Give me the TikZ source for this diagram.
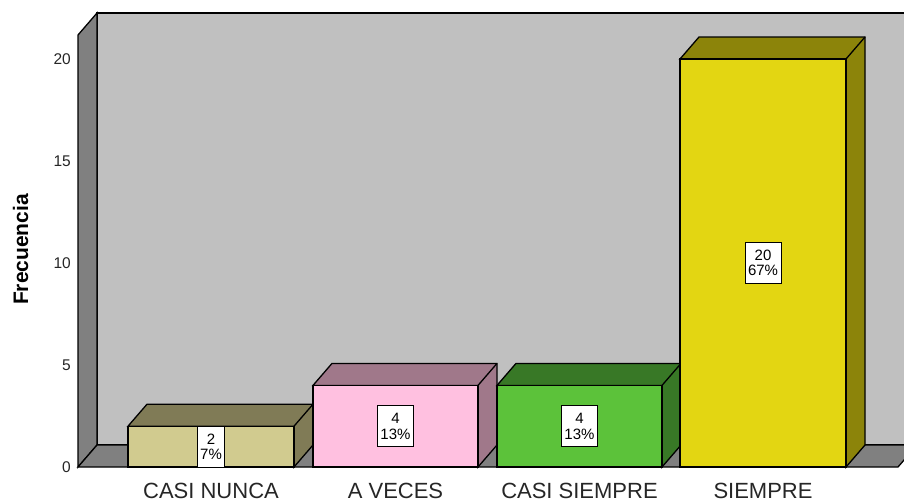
\documentclass[tikz,border=0pt]{standalone}
\usepackage{fontspec}
\setmainfont{Liberation Sans}
\usetikzlibrary{calc}
\definecolor{wallback}{HTML}{C0C0C0}
\definecolor{wallside}{HTML}{808080}
\definecolor{nuncafront}{HTML}{D1CB8F}
\definecolor{nuncaside}{HTML}{807B56}
\definecolor{vecesfront}{HTML}{FFC0E0}
\definecolor{vecesside}{HTML}{A0788A}
\definecolor{casifront}{HTML}{5CC23A}
\definecolor{casiside}{HTML}{387826}
\definecolor{siemprefront}{HTML}{E3D612}
\definecolor{siempreside}{HTML}{8C840A}
\def\barthree[#1][#2](#3,#4)(#5,#6){%
	\draw[line width=1.3pt, fill=#2] (#5,#4) -- ++(19,-22) -- (#5+19,#6-22) -- (#3+19,#6-22) -- (#3,#6) -- (#5,#6) -- cycle;
	\draw[line width=1.3pt, fill=#1] (#3,#4) rectangle (#5,#6);
	\draw[line width=1.3pt] (#5,#6) -- ++(19,-22);}
\tikzset{
	valbox/.style={draw=black, line width=1pt, fill=white, align=center, inner xsep=3pt, inner ysep=0pt, minimum height=41pt, font=\fontsize{15}{15.5}\selectfont},
	catlabel/.style={anchor=base, text=black!85, font=\fontsize{22}{22}\selectfont},
	ticklabel/.style={anchor=east, inner sep=0pt, text=black!85, font=\fontsize{15.5}{15.5}\selectfont}
}

\begin{document}
\begin{tikzpicture}[x=1pt, y=-1pt]
		%%%%% START %%%%%
		\useasboundingbox (0, 0) rectangle (904, 501);
		\clip (0, 0) rectangle (904, 501);
		
		% walls and floor
		\draw[line width=1.3pt, fill=wallback] (97, 13) rectangle (917, 445);
		\draw[line width=1.3pt, fill=wallside] (78, 467) -- (78, 35) -- (97, 13) -- (97, 445) -- cycle;
		\draw[line width=1.3pt, fill=wallside] (78, 467) -- (97, 445) -- (917, 445) -- (898, 467) -- cycle;
		
		% bars
		\barthree[nuncafront][nuncaside](128, 467)(294, 426.2)
		\barthree[vecesfront][vecesside](313, 467)(478, 385.4)
		\barthree[casifront][casiside](497, 467)(662, 385.4)
		\barthree[siemprefront][siempreside](680, 467)(846, 59)
		
		% values
		\node[valbox] (nunca) at (211, 446.6) {2\\7\%};
		\node[valbox] (veces) at (395.5, 426.2) {4\\13\%};
		\node[valbox] (casi) at (579.5, 426.2) {4\\13\%};
		\node[valbox] (siempre) at (763, 263) {20\\67\%};
		
		% axis
		\node[ticklabel] (t0) at (71, 467) {0};
		\node[ticklabel] (t5) at (71, 365) {5};
		\node[ticklabel] (t10) at (71, 263) {10};
		\node[ticklabel] (t15) at (71, 161) {15};
		\node[ticklabel] (t20) at (71, 59) {20};
		\node[rotate=90, font=\fontsize{21}{21}\selectfont\bfseries] (ytitle) at (20.5, 249.5) {Frecuencia};
		
		% categories
		\node[catlabel] (cnunca) at (211, 498) {CASI NUNCA};
		\node[catlabel] (cveces) at (395.5, 498) {A VECES};
		\node[catlabel] (ccasi) at (579.5, 498) {CASI SIEMPRE};
		\node[catlabel] (csiempre) at (763, 498) {SIEMPRE};
		
		%%%%% END %%%%%
\end{tikzpicture}
\end{document}
